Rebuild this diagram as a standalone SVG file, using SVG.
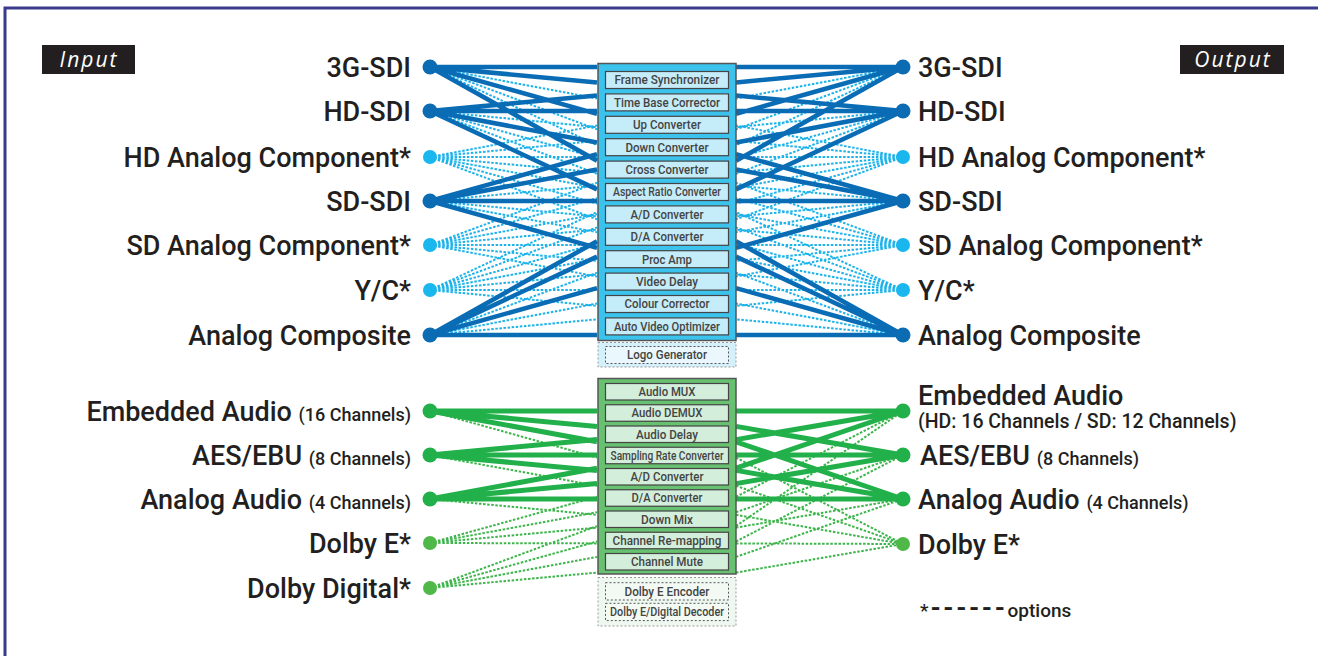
<svg xmlns="http://www.w3.org/2000/svg" xmlns:xlink="http://www.w3.org/1999/xlink" width="1318" height="656" viewBox="0 0 1318 656">
<style>
.lbl{font-family:Roboto,"Liberation Sans",sans-serif;font-weight:500;font-size:27px;fill:#231f20}
.sm{font-size:18px}
.it{font-family:Roboto,"Liberation Sans",sans-serif;font-weight:500;font-size:12px;fill:#444;text-anchor:middle}
.tag{font-family:"Open Sans","Liberation Sans",sans-serif;font-style:italic;font-size:21px;letter-spacing:2px;fill:#fff;text-anchor:middle}
.vs{stroke:#0a6cb4;stroke-width:4.5;fill:none}
.vd{stroke:#1cb3ea;stroke-width:2;stroke-dasharray:2.5 1.6;fill:none}
.as{stroke:#22b04b;stroke-width:5;fill:none}
.ad{stroke:#3cb54a;stroke-width:2;stroke-dasharray:2.5 1.6;fill:none}
.vbox{fill:#3bc3ee;stroke:#555;stroke-width:1.5}
.vitem{fill:#c5ecf9;stroke:#444;stroke-width:1.2}
.abox{fill:#68c170;stroke:#555;stroke-width:1.5}
.aitem{fill:#d3eedb;stroke:#444;stroke-width:1.2}
.dsh{stroke-dasharray:2 2}
.dS{fill:#0b6bb3}.dA{fill:#19b7ee}.dG{fill:#22b04b}.dL{fill:#4fb848}
</style>
<rect width="1318" height="656" fill="#fff"/>
<path d="M5 656V8H1318" fill="none" stroke="#3a3a8c" stroke-width="3"/>

<g id="tag-input"><rect x="42" y="45" width="93" height="29" fill="#231f20"/><text class="tag" x="89" y="67">Input</text></g>
<g id="tag-output"><rect x="1180" y="45" width="104" height="29" fill="#231f20"/><text class="tag" x="1233" y="67">Output</text></g>

<g id="connectors">
 <g id="vidL">
  <path class="vd" d="M430 67L597 98.5M430 67L597 129.3M430 67L597 145.1
  M430 111L597 127.1M430 111L597 157.9M430 111L597 173.7
  M430 157L597 125.5M430 157L597 140.9M430 157L597 157M430 157L597 172.4M430 157L597 187.8M430 157L597 203.6M430 157L597 219.3
  M430 201L597 185.6M430 201L597 216.4M430 201L597 232.2
  M430 245L597 182.7M430 245L597 198.1M430 245L597 214.2M430 245L597 229.6M430 245L597 245M430 245L597 260.8M430 245L597 276.5
  M430 290L597 212M430 290L597 227.4M430 290L597 243.5M430 290L597 258.9M430 290L597 274.3M430 290L597 290M430 290L597 305.8
  M430 335L597 272.7M430 335L597 303.5M430 335L597 319.3"/>
  <path class="vs" d="M430 67L597 67M430 67L597 82.4M430 67L597 113.9M430 67L597 160.8
  M430 111L597 95.6M430 111L597 111M430 111L597 142.5M430 111L597 189.4
  M430 201L597 154.1M430 201L597 169.5M430 201L597 201M430 201L597 247.9
  M430 335L597 241.2M430 335L597 256.6M430 335L597 288.1M430 335L597 335"/>
 </g>
 <use xlink:href="#vidL" transform="translate(1333,0) scale(-1,1)"/>
 <g id="audL">
  <path class="ad" d="M430 411L597 457.6M430 455L597 485.8M430 499L597 514.8
  M430 543L597 496.8M430 543L597 512.2M430 543L597 527.6M430 543L597 543.4
  M430 588L597 526.1M430 588L597 541.5M430 588L597 556.9M430 588L597 572.6"/>
  <path class="as" d="M430 411L597 411M430 411L597 426.4M430 411L597 441.8
  M430 455L597 439.6M430 455L597 455M430 455L597 470.4
  M430 499L597 468.2M430 499L597 483.6M430 499L597 499"/>
 </g>
 <g id="audR">
  <path class="ad" d="M736 496.8L903 411M736 526.1L903 411M736 512.2L903 455M736 541.5L903 455M736 527.6L903 499M736 556.9L903 499
  M736 457.6L903 544M736 485.8L903 544M736 514.8L903 544M736 543.4L903 544M736 572.6L903 544"/>
  <path class="as" d="M736 411L903 411M736 439.6L903 411M736 468.2L903 411
  M736 426.4L903 455M736 455L903 455M736 483.6L903 455
  M736 441.8L903 499M736 470.4L903 499M736 499L903 499"/>
 </g>
</g>

<g id="video-processor">
 <rect class="vbox" x="598" y="63.5" width="138" height="277"/>
 <g id="video-items">
  <rect class="vitem" x="605.5" y="71.5" width="123" height="17"/><text class="it" x="667" y="84.4" textLength="105" lengthAdjust="spacingAndGlyphs">Frame Synchronizer</text>
  <rect class="vitem" x="605.5" y="93.9" width="123" height="17"/><text class="it" x="667" y="106.8" textLength="106" lengthAdjust="spacingAndGlyphs">Time Base Corrector</text>
  <rect class="vitem" x="605.5" y="116.3" width="123" height="17"/><text class="it" x="667" y="129.2" textLength="68" lengthAdjust="spacingAndGlyphs">Up Converter</text>
  <rect class="vitem" x="605.5" y="138.7" width="123" height="17"/><text class="it" x="667" y="151.6" textLength="83" lengthAdjust="spacingAndGlyphs">Down Converter</text>
  <rect class="vitem" x="605.5" y="161.1" width="123" height="17"/><text class="it" x="667" y="174" textLength="83" lengthAdjust="spacingAndGlyphs">Cross Converter</text>
  <rect class="vitem" x="605.5" y="183.5" width="123" height="17"/><text class="it" x="667" y="196.4" textLength="108" lengthAdjust="spacingAndGlyphs">Aspect Ratio Converter</text>
  <rect class="vitem" x="605.5" y="205.9" width="123" height="17"/><text class="it" x="667" y="218.8" textLength="73" lengthAdjust="spacingAndGlyphs">A/D Converter</text>
  <rect class="vitem" x="605.5" y="228.3" width="123" height="17"/><text class="it" x="667" y="241.2" textLength="73" lengthAdjust="spacingAndGlyphs">D/A Converter</text>
  <rect class="vitem" x="605.5" y="250.7" width="123" height="17"/><text class="it" x="667" y="263.6" textLength="50" lengthAdjust="spacingAndGlyphs">Proc Amp</text>
  <rect class="vitem" x="605.5" y="273.1" width="123" height="17"/><text class="it" x="667" y="286" textLength="62" lengthAdjust="spacingAndGlyphs">Video Delay</text>
  <rect class="vitem" x="605.5" y="295.5" width="123" height="17"/><text class="it" x="667" y="308.4" textLength="85" lengthAdjust="spacingAndGlyphs">Colour Corrector</text>
  <rect class="vitem" x="605.5" y="317.9" width="123" height="17"/><text class="it" x="667" y="330.8" textLength="106" lengthAdjust="spacingAndGlyphs">Auto Video Optimizer</text>
 </g>
 <g id="video-options">
  <rect x="598" y="342.5" width="138" height="24.5" fill="#d4f0fb" stroke="#999" stroke-width="1" class="dsh"/>
  <rect x="605.5" y="346.5" width="123" height="17" fill="#eaf8fd" stroke="#555" stroke-width="1" class="dsh"/>
  <text class="it" x="667" y="359.4" textLength="80" lengthAdjust="spacingAndGlyphs">Logo Generator</text>
 </g>
</g>

<g id="audio-processor">
 <rect class="abox" x="598" y="378.5" width="138" height="195.5"/>
 <g id="audio-items">
  <rect class="aitem" x="605.5" y="383.5" width="123" height="16.5"/><text class="it" x="667" y="396.1" textLength="57" lengthAdjust="spacingAndGlyphs">Audio MUX</text>
  <rect class="aitem" x="605.5" y="404.75" width="123" height="16.5"/><text class="it" x="667" y="417.35" textLength="71" lengthAdjust="spacingAndGlyphs">Audio DEMUX</text>
  <rect class="aitem" x="605.5" y="426" width="123" height="16.5"/><text class="it" x="667" y="438.6" textLength="62" lengthAdjust="spacingAndGlyphs">Audio Delay</text>
  <rect class="aitem" x="605.5" y="447.25" width="123" height="16.5"/><text class="it" x="667" y="459.85" textLength="113" lengthAdjust="spacingAndGlyphs">Sampling Rate Converter</text>
  <rect class="aitem" x="605.5" y="468.5" width="123" height="16.5"/><text class="it" x="667" y="481.1" textLength="73" lengthAdjust="spacingAndGlyphs">A/D Converter</text>
  <rect class="aitem" x="605.5" y="489.75" width="123" height="16.5"/><text class="it" x="667" y="502.35" textLength="71" lengthAdjust="spacingAndGlyphs">D/A Converter</text>
  <rect class="aitem" x="605.5" y="511" width="123" height="16.5"/><text class="it" x="667" y="523.6" textLength="52" lengthAdjust="spacingAndGlyphs">Down Mix</text>
  <rect class="aitem" x="605.5" y="532.25" width="123" height="16.5"/><text class="it" x="667" y="544.85" textLength="109" lengthAdjust="spacingAndGlyphs">Channel Re-mapping</text>
  <rect class="aitem" x="605.5" y="553.5" width="123" height="16.5"/><text class="it" x="667" y="566.1" textLength="72" lengthAdjust="spacingAndGlyphs">Channel Mute</text>
 </g>
 <g id="audio-options">
  <rect x="598" y="577.5" width="138" height="48.5" fill="#eef8f0" stroke="#999" stroke-width="1" class="dsh"/>
  <rect x="605.5" y="582.7" width="123" height="17.3" fill="#f3faf4" stroke="#555" stroke-width="1" class="dsh"/>
  <text class="it" x="667" y="595.8" textLength="85" lengthAdjust="spacingAndGlyphs">Dolby E Encoder</text>
  <rect x="605.5" y="603.3" width="123" height="17.3" fill="#f3faf4" stroke="#555" stroke-width="1" class="dsh"/>
  <text class="it" x="667" y="616.4" textLength="114" lengthAdjust="spacingAndGlyphs">Dolby E/Digital Decoder</text>
 </g>
</g>

<g id="in-3g-sdi"><circle class="dS" cx="430" cy="67" r="7.5"/><text class="lbl" x="411" y="76.5" text-anchor="end">3G-SDI</text></g>
<g id="in-hd-sdi"><circle class="dS" cx="430" cy="111" r="7.5"/><text class="lbl" x="411" y="120.5" text-anchor="end">HD-SDI</text></g>
<g id="in-hd-analog"><circle class="dA" cx="430" cy="157" r="7"/><text class="lbl" x="411" y="166.5" text-anchor="end">HD Analog Component*</text></g>
<g id="in-sd-sdi"><circle class="dS" cx="430" cy="201" r="7.5"/><text class="lbl" x="411" y="210.5" text-anchor="end">SD-SDI</text></g>
<g id="in-sd-analog"><circle class="dA" cx="430" cy="245" r="7"/><text class="lbl" x="411" y="254.5" text-anchor="end">SD Analog Component*</text></g>
<g id="in-yc"><circle class="dA" cx="430" cy="290" r="7"/><text class="lbl" x="411" y="299.5" text-anchor="end">Y/C*</text></g>
<g id="in-composite"><circle class="dS" cx="430" cy="335" r="7.5"/><text class="lbl" x="411" y="344.5" text-anchor="end">Analog Composite</text></g>

<g id="out-3g-sdi"><circle class="dS" cx="903" cy="67" r="7.5"/><text class="lbl" x="918" y="76.5">3G-SDI</text></g>
<g id="out-hd-sdi"><circle class="dS" cx="903" cy="111" r="7.5"/><text class="lbl" x="918" y="120.5">HD-SDI</text></g>
<g id="out-hd-analog"><circle class="dA" cx="903" cy="157" r="7"/><text class="lbl" x="918" y="166.5">HD Analog Component*</text></g>
<g id="out-sd-sdi"><circle class="dS" cx="903" cy="201" r="7.5"/><text class="lbl" x="918" y="210.5">SD-SDI</text></g>
<g id="out-sd-analog"><circle class="dA" cx="903" cy="245" r="7"/><text class="lbl" x="918" y="254.5">SD Analog Component*</text></g>
<g id="out-yc"><circle class="dA" cx="903" cy="290" r="7"/><text class="lbl" x="918" y="299.5">Y/C*</text></g>
<g id="out-composite"><circle class="dS" cx="903" cy="335" r="7.5"/><text class="lbl" x="918" y="344.5">Analog Composite</text></g>

<g id="in-embedded"><circle class="dG" cx="430" cy="411" r="7.5"/><text class="lbl" x="411" y="420.5" text-anchor="end">Embedded Audio <tspan class="sm">(16 Channels)</tspan></text></g>
<g id="in-aes"><circle class="dG" cx="430" cy="455" r="7.5"/><text class="lbl" x="411" y="464.5" text-anchor="end">AES/EBU <tspan class="sm">(8 Channels)</tspan></text></g>
<g id="in-analog-audio"><circle class="dG" cx="430" cy="499" r="7.5"/><text class="lbl" x="411" y="508.5" text-anchor="end">Analog Audio <tspan class="sm">(4 Channels)</tspan></text></g>
<g id="in-dolby-e"><circle class="dL" cx="430" cy="543" r="7"/><text class="lbl" x="411" y="552.5" text-anchor="end">Dolby E*</text></g>
<g id="in-dolby-digital"><circle class="dL" cx="430" cy="588" r="7"/><text class="lbl" x="411" y="597.5" text-anchor="end">Dolby Digital*</text></g>

<g id="out-embedded"><circle class="dG" cx="903" cy="411" r="7.5"/><text class="lbl" x="918" y="405">Embedded Audio</text><text class="lbl" x="918" y="428" style="font-size:19.5px">(HD: 16 Channels / SD: 12 Channels)</text></g>
<g id="out-aes"><circle class="dG" cx="903" cy="455" r="7.5"/><text class="lbl" x="920" y="464.5">AES/EBU <tspan class="sm">(8 Channels)</tspan></text></g>
<g id="out-analog-audio"><circle class="dG" cx="903" cy="499" r="7.5"/><text class="lbl" x="918" y="508.5">Analog Audio <tspan class="sm">(4 Channels)</tspan></text></g>
<g id="out-dolby-e"><circle class="dL" cx="903" cy="544" r="7"/><text class="lbl" x="918" y="553.5">Dolby E*</text></g>

<g id="legend"><text class="lbl" x="920" y="617" style="font-size:19px">*<tspan dx="2" style="font-size:26px;letter-spacing:2.6px;font-weight:700">------</tspan>options</text></g>
</svg>
